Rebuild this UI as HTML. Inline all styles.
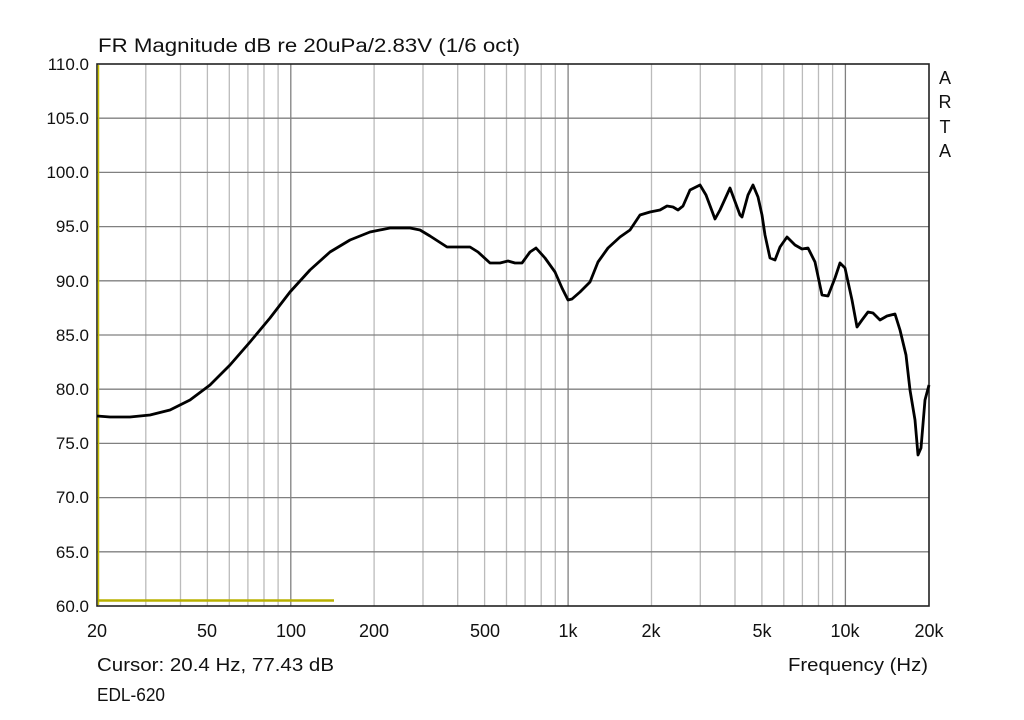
<!DOCTYPE html>
<html><head><meta charset="utf-8"><style>
body{margin:0;background:#fff;}
svg text{font-family:"Liberation Sans",Arial,sans-serif;fill:#111;}
</style></head><body>
<svg width="1024" height="715" xmlns="http://www.w3.org/2000/svg">
<rect width="1024" height="715" fill="#fff"/>
<g stroke="#bbb" stroke-width="1.3">
<line x1="145.8" y1="64" x2="145.8" y2="606"/><line x1="180.5" y1="64" x2="180.5" y2="606"/><line x1="207.4" y1="64" x2="207.4" y2="606"/><line x1="229.3" y1="64" x2="229.3" y2="606"/><line x1="247.9" y1="64" x2="247.9" y2="606"/><line x1="264" y1="64" x2="264" y2="606"/><line x1="278.1" y1="64" x2="278.1" y2="606"/>
<line x1="374.1" y1="64" x2="374.1" y2="606"/><line x1="423" y1="64" x2="423" y2="606"/><line x1="457.7" y1="64" x2="457.7" y2="606"/><line x1="484.6" y1="64" x2="484.6" y2="606"/><line x1="506.5" y1="64" x2="506.5" y2="606"/><line x1="525.1" y1="64" x2="525.1" y2="606"/><line x1="541.2" y1="64" x2="541.2" y2="606"/><line x1="555.3" y1="64" x2="555.3" y2="606"/>
<line x1="651.5" y1="64" x2="651.5" y2="606"/><line x1="700.3" y1="64" x2="700.3" y2="606"/><line x1="735" y1="64" x2="735" y2="606"/><line x1="761.9" y1="64" x2="761.9" y2="606"/><line x1="783.8" y1="64" x2="783.8" y2="606"/><line x1="802.4" y1="64" x2="802.4" y2="606"/><line x1="818.5" y1="64" x2="818.5" y2="606"/><line x1="832.6" y1="64" x2="832.6" y2="606"/>
</g>
<g stroke="#808080" stroke-width="1.3">
<line x1="290.8" y1="64" x2="290.8" y2="606"/><line x1="568.1" y1="64" x2="568.1" y2="606"/><line x1="845.4" y1="64" x2="845.4" y2="606"/>
<line x1="97" y1="118.2" x2="929" y2="118.2"/><line x1="97" y1="172.4" x2="929" y2="172.4"/><line x1="97" y1="226.6" x2="929" y2="226.6"/><line x1="97" y1="280.8" x2="929" y2="280.8"/><line x1="97" y1="335" x2="929" y2="335"/><line x1="97" y1="389.2" x2="929" y2="389.2"/><line x1="97" y1="443.4" x2="929" y2="443.4"/><line x1="97" y1="497.6" x2="929" y2="497.6"/><line x1="97" y1="551.8" x2="929" y2="551.8"/>
</g>
<rect x="97" y="64" width="832" height="542" fill="none" stroke="#222" stroke-width="1.6"/>
<line x1="98.5" y1="65" x2="98.5" y2="605" stroke="#c8c000" stroke-width="1.5"/>
<line x1="98" y1="600.5" x2="334" y2="600.5" stroke="#b8b000" stroke-width="2.5"/>
<polyline fill="none" stroke="#000" stroke-width="2.8" stroke-linejoin="round" points="97,416 110,417 130,417 150,415 170,410 190,400 210,385 230,365 250,342 270,318 290,292 310,270 330,252 350,240 370,232 390,228 410,228 420,230 430,236 447,247 470,247 478,252 490,263 500,263 508,261 515,263 522,263 530,252 536,248 545,258 555,272 562,288 568,300 572,299 580,292 590,282 598,262 608,248 620,237 630,230 640,215 650,212 660,210 667,206 673,207 678,210 683,206 690,190 700,185 706,195 715,219 720,210 730,188 740,215 742,217 748,195 753,185 758,197 762,215 765,235 770,258 775,260 780,247 787,237 795,245 802,249 808,248 815,262 822,295 828,296 835,278 840,263 845,268 852,300 857,327 862,320 868,312 873,313 880,320 887,316 895,314 900,330 906,355 910,390 915,420 918,455 921,448 925,400 929,385"/>
<text x="98" y="52" font-size="19" textLength="422" lengthAdjust="spacingAndGlyphs">FR Magnitude dB re 20uPa/2.83V (1/6 oct)</text>
<g font-size="17" text-anchor="end">
<text x="89" y="70">110.0</text><text x="89" y="124">105.0</text><text x="89" y="178">100.0</text><text x="89" y="232">95.0</text><text x="89" y="287">90.0</text><text x="89" y="341">85.0</text><text x="89" y="395">80.0</text><text x="89" y="449">75.0</text><text x="89" y="503">70.0</text><text x="89" y="558">65.0</text><text x="89" y="612">60.0</text>
</g>
<g font-size="18" text-anchor="middle">
<text x="97" y="637">20</text><text x="207" y="637">50</text><text x="291" y="637">100</text><text x="374" y="637">200</text><text x="485" y="637">500</text><text x="568" y="637">1k</text><text x="651" y="637">2k</text><text x="762" y="637">5k</text><text x="845" y="637">10k</text><text x="929" y="637">20k</text>
<text x="945" y="84">A</text><text x="945" y="108">R</text><text x="945" y="133">T</text><text x="945" y="157">A</text>
</g>
<text x="97" y="671" font-size="18" textLength="237" lengthAdjust="spacingAndGlyphs">Cursor: 20.4 Hz, 77.43 dB</text>
<text x="97" y="701" font-size="18" textLength="68" lengthAdjust="spacingAndGlyphs">EDL-620</text>
<text x="788" y="671" font-size="18" textLength="140" lengthAdjust="spacingAndGlyphs">Frequency (Hz)</text>
</svg>
</body></html>
